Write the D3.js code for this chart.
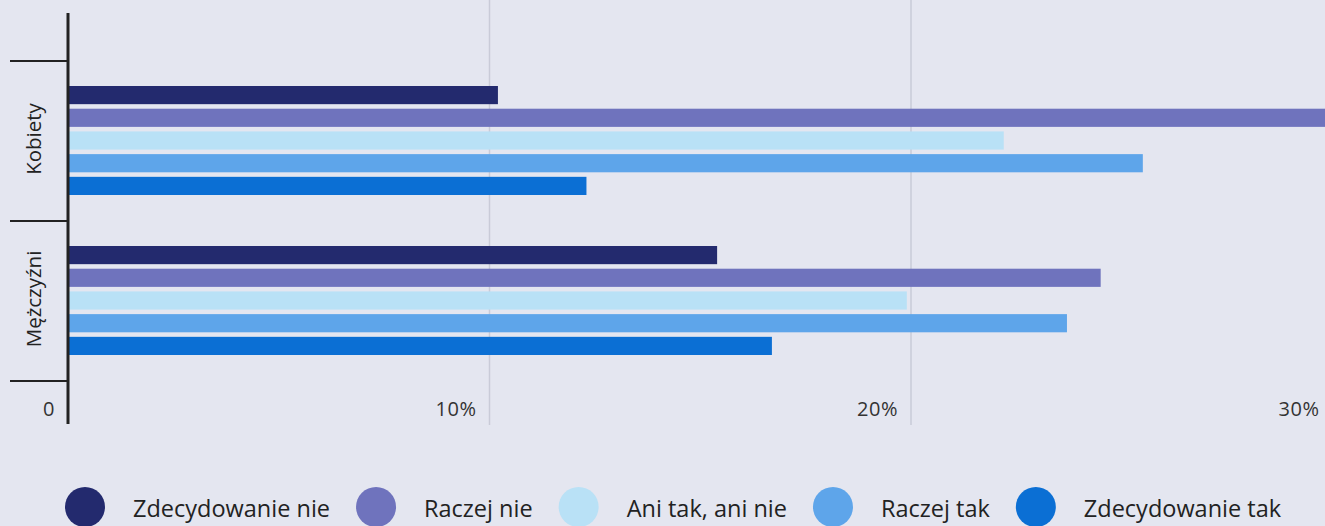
<!DOCTYPE html>
<html><head><meta charset="utf-8">
<script src="https://cdn.jsdelivr.net/npm/d3@7"></script>
<style>
html,body{margin:0;padding:0;background:#e4e6f0;overflow:hidden}
svg{display:block;font-family:"Open Sans",sans-serif}
</style></head>
<body>
<svg id="chart" width="1325" height="526"></svg>
<script>
const categories = ["Kobiety", "Mężczyźni"];
const seriesNames = ["Zdecydowanie nie", "Raczej nie", "Ani tak, ani nie", "Raczej tak", "Zdecydowanie tak"];
const zdecydowanieNie = [10.2, 15.4];
const raczejNie = [30.4, 24.5];
const aniTakAniNie = [22.2, 19.9];
const raczejTak = [25.5, 23.7];
const zdecydowanieTak = [12.3, 16.7];
const seriesValues = [zdecydowanieNie, raczejNie, aniTakAniNie, raczejTak, zdecydowanieTak];
const colors = ["#232a6e", "#6f73bd", "#b9e1f6", "#5ea5ea", "#0b6fd4"];
const tickValues = [0, 10, 20, 30];
const tickLabels = ["0", "10%", "20%", "30%"];

const svg = d3.select("#chart");
const x = d3.scaleLinear().domain([0, 10]).range([68, 489.5]);
const y0 = d3.scaleBand().domain(categories).range([61, 381]);
const y1 = d3.scaleBand().domain(seriesNames).range([25, 134]).paddingInner(0.2);

// gridlines
svg.append("g").selectAll("line").data(tickValues.slice(1)).join("line")
  .attr("x1", d => x(d)).attr("x2", d => x(d))
  .attr("y1", 0).attr("y2", 425)
  .attr("stroke", "#c9cbd8").attr("stroke-width", 1.5);

// bars
const groups = svg.append("g").selectAll("g").data(categories).join("g")
  .attr("transform", c => `translate(0,${y0(c)})`);
groups.selectAll("rect").data((c, ci) => seriesNames.map((s, si) => ({s, si, v: seriesValues[si][ci]})))
  .join("rect")
  .attr("x", x(0)).attr("y", d => y1(d.s))
  .attr("width", d => x(d.v) - x(0)).attr("height", y1.bandwidth())
  .attr("fill", d => colors[d.si]);

// y axis line
svg.append("line").attr("x1", 68).attr("x2", 68).attr("y1", 13).attr("y2", 424)
  .attr("stroke", "#222").attr("stroke-width", 3);
// category boundary ticks
const bounds = [y0(categories[0]), y0(categories[1]), y0(categories[1]) + y0.bandwidth()];
svg.append("g").selectAll("line").data(bounds).join("line")
  .attr("x1", 10).attr("x2", 68).attr("y1", d => d).attr("y2", d => d)
  .attr("stroke", "#222").attr("stroke-width", 2);

// category labels
svg.append("g").selectAll("text").data(categories).join("text")
  .attr("transform", c => `translate(41,${y0(c) + y0.bandwidth() / 2 - 2}) rotate(-90)`)
  .attr("text-anchor", "middle").attr("font-size", 20.5).attr("fill", "#222")
  .text(c => c);

// x tick labels
svg.append("g").selectAll("text").data(tickValues).join("text")
  .attr("x", d => x(d) - 13).attr("y", 416)
  .attr("text-anchor", "end").attr("font-size", 20).attr("letter-spacing", 0.5).attr("fill", "#333")
  .text((d, i) => tickLabels[i]);

// legend
const leg = svg.append("g").attr("transform", "translate(0,507)");
let cx = 85;
seriesNames.forEach((s, i) => {
  leg.append("circle").attr("cx", cx).attr("cy", 0).attr("r", 20).attr("fill", colors[i]);
  const t = leg.append("text").attr("x", cx + 48).attr("y", 10)
    .attr("font-size", 23.5).attr("fill", "#222").text(s);
  const w = t.node().getComputedTextLength();
  cx = cx + 48 + w + 46;
});
</script>
</body></html>
